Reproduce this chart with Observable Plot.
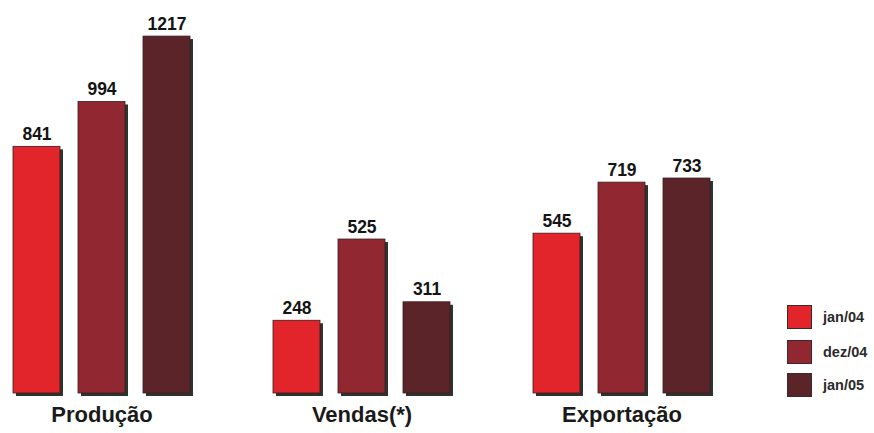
<!DOCTYPE html>
<html>
<head>
<meta charset="utf-8">
<script src="https://cdn.jsdelivr.net/npm/d3@7"></script>
<script src="https://cdn.jsdelivr.net/npm/@observablehq/plot@0.6"></script>
<style>
  html, body { margin: 0; padding: 0; background: #ffffff; }
  #wrap { position: relative; width: 874px; height: 433px; overflow: hidden; font-family: "Liberation Sans", Arial, sans-serif; }
  #legend { position: absolute; left: 787px; top: 305px; }
  .item { position: absolute; left: 0; display: flex; align-items: center; white-space: nowrap; }
  .sw { width: 25px; height: 24px; border: 1px solid #3a2a2a; box-sizing: border-box; }
  .lab { margin-left: 11px; font-size: 14.5px; font-weight: bold; color: #2b2b2b; }
</style>
</head>
<body>
<div id="wrap"></div>
<script>
const groups = ["Produção", "Vendas(*)", "Exportação"];
const series = ["jan/04", "dez/04", "jan/05"];
const producao = [841, 994, 1217];
const vendas = [248, 525, 311];
const exportacao = [545, 719, 733];
const colors = ["#e2242b", "#912730", "#5b2428"];

const valuesByGroup = [producao, vendas, exportacao];
const table = [];
groups.forEach((g, gi) => series.forEach((s, si) => table.push({group: g, series: s, value: valuesByGroup[gi][si]})));

const font = "'Liberation Sans', Arial, sans-serif";

const chart = Plot.plot({
  width: 874,
  height: 433,
  marginTop: 0,
  marginBottom: 40,
  marginLeft: 12,
  marginRight: 164,
  style: {background: "#ffffff", fontFamily: font},
  fx: {domain: groups, paddingInner: 0.32, paddingOuter: 0, axis: null},
  x: {domain: series, paddingInner: 0.28, paddingOuter: 0, axis: null},
  y: {domain: [0, 1340], axis: null},
  color: {domain: series, range: colors},
  marks: [
    Plot.barY(table, {fx: "group", x: "series", y: "value", fill: "#2c342f", dx: 3, dy: 3}),
    Plot.barY(table, {fx: "group", x: "series", y: "value", fill: "series", stroke: "#3a1c1e", strokeWidth: 0.8}),
    Plot.text(table, {fx: "group", x: "series", y: "value", text: d => String(d.value), dy: -7, lineAnchor: "bottom", fontSize: 17.5, fontWeight: "bold", fill: "#141414"}),
    Plot.text(groups, {fx: d => d, text: d => d, frameAnchor: "bottom", dy: 21, lineAnchor: "middle", fontSize: 22, fontWeight: "bold", fill: "#1a1a1a", style: "letter-spacing:1px"})
  ]
});
document.getElementById("wrap").appendChild(chart);

// legend
const legend = d3.select("#wrap").append("div").attr("id", "legend");
const rowTops = [0, 35, 68];
series.forEach((s, i) => {
  const it = legend.append("div").attr("class", "item").style("top", rowTops[i] + "px");
  it.append("div").attr("class", "sw").style("background", colors[i]);
  it.append("div").attr("class", "lab").text(s);
});
</script>
</body>
</html>
